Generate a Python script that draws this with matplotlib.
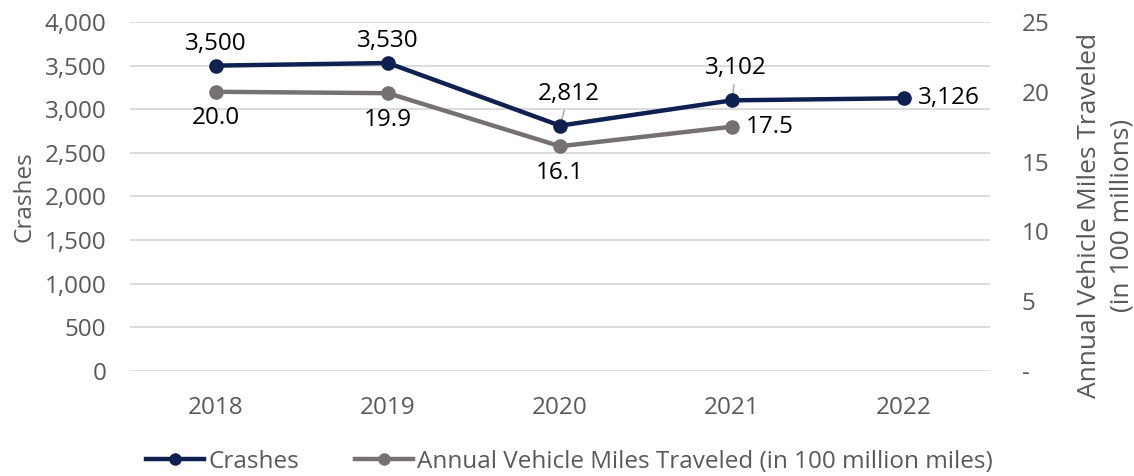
import matplotlib
matplotlib.use("Agg")
import matplotlib.pyplot as plt
from matplotlib.ticker import FuncFormatter, FixedLocator
from matplotlib.lines import Line2D

plt.rcParams['font.family'] = ['Open Sans', 'DejaVu Sans']

years = ["2018", "2019", "2020", "2021", "2022"]
crashes = [3500, 3530, 2812, 3102, 3126]
vmt = [20.0, 19.9, 16.1, 17.5]
left_ticks = [0, 500, 1000, 1500, 2000, 2500, 3000, 3500, 4000]
right_ticks = [0, 5, 10, 15, 20, 25]

navy = "#0E2151"
gray = "#767171"
tick_color = "#595959"
fs = 17.5

W, H = 1134, 476
fig = plt.figure(figsize=(W / 100, H / 100), dpi=100)
ax = fig.add_axes([0.1146, 0.2206, 0.873 - 0.1146, 0.9538 - 0.2206])
ax2 = ax.twinx()

x = list(range(len(years)))
ax.plot(x, crashes, color=navy, lw=3.2, marker='o', ms=9.5, zorder=5)
ax2.plot(x[:len(vmt)], vmt, color=gray, lw=3.2, marker='o', ms=9.5, zorder=4)

ax.set_xlim(-0.5, len(years) - 0.5)
ax.set_ylim(0, 4000)
ax2.set_ylim(0, 25)
ax.set_xticks(x)
ax.set_xticklabels(years)
ax.yaxis.set_major_locator(FixedLocator(left_ticks))
ax.yaxis.set_major_formatter(FuncFormatter(lambda v, p: f"{int(v):,}"))
ax2.yaxis.set_major_locator(FixedLocator(right_ticks))
ax2.yaxis.set_major_formatter(FuncFormatter(lambda v, p: "-" if v == 0 else f"{int(v)}"))

for a in (ax, ax2):
    for s in a.spines.values():
        s.set_visible(False)
    a.tick_params(length=0, labelsize=fs, colors=tick_color)
ax.tick_params(axis='x', pad=18)
ax.tick_params(axis='y', pad=17)
ax2.tick_params(axis='y', pad=23)
ax.grid(axis='y', color='#D9D9D9', lw=1.3)
ax.set_axisbelow(True)

ax.set_ylabel("Crashes", fontsize=fs, color=tick_color, labelpad=6)
fig.text(1106 / W, 1 - 215 / H, "Annual Vehicle Miles Traveled\n(in 100 millions)",
         fontsize=19, color=tick_color, rotation=90, ha='center', va='center',
         multialignment='center', linespacing=1.37)

# crash labels
kw = dict(textcoords='offset points', fontsize=fs, color='black')
ax.annotate(f"{crashes[0]:,}", (0, crashes[0]), xytext=(0, 15.5), ha='center', va='center', **kw)
ax.annotate(f"{crashes[1]:,}", (1, crashes[1]), xytext=(0, 15.5), ha='center', va='center', **kw)
ax.annotate(f"{crashes[2]:,}", (2, crashes[2]), xytext=(6.5, 23), ha='center', va='center',
            arrowprops=dict(arrowstyle='-', color='#A6A6A6', lw=1, shrinkA=1, shrinkB=5), **kw)
ax.annotate(f"{crashes[3]:,}", (3, crashes[3]), xytext=(3, 23), ha='center', va='center',
            arrowprops=dict(arrowstyle='-', color='#A6A6A6', lw=1, shrinkA=1, shrinkB=5), **kw)
ax.annotate(f"{crashes[4]:,}", (4, crashes[4]), xytext=(10, 0), ha='left', va='center', **kw)

# vmt labels
for i in range(3):
    ax2.annotate(f"{vmt[i]:.1f}", (i, vmt[i]), xytext=(0, -19), ha='center', va='center', **kw)
ax2.annotate(f"{vmt[3]:.1f}", (3, vmt[3]), xytext=(10, 0), ha='left', va='center', **kw)

handles = [Line2D([], [], color=navy, lw=3.2, marker='o', ms=8),
           Line2D([], [], color=gray, lw=3.2, marker='o', ms=8)]
fig.legend(handles, ["Crashes", "Annual Vehicle Miles Traveled (in 100 million miles)"],
           loc='center', bbox_to_anchor=(0.502, 0.03), ncol=2, frameon=False,
           fontsize=fs, labelcolor=tick_color, handlelength=2.4, handletextpad=0.15,
           columnspacing=2.3)

fig.savefig("out.png", dpi=100)
